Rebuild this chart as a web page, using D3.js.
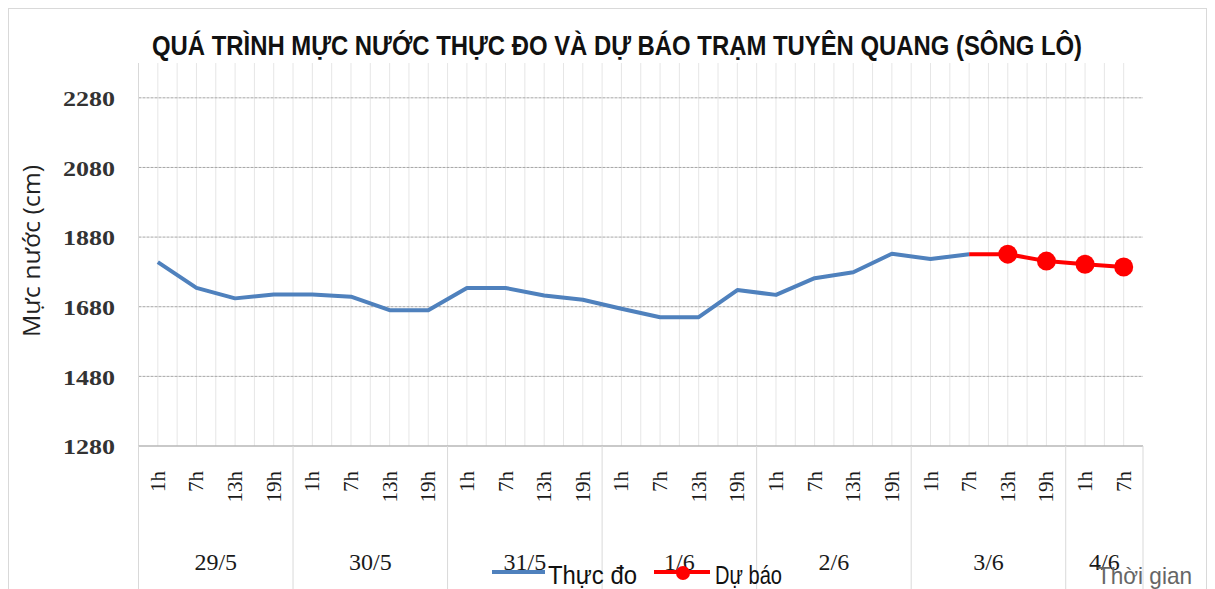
<!DOCTYPE html>
<html><head><meta charset="utf-8">
<script src="https://cdn.jsdelivr.net/npm/d3@7"></script>
<style>body{margin:0;background:#fff}svg{display:block}</style>
</head><body>
<svg id="c" width="1215" height="589"></svg>
<script>
const days = ["29/5","30/5","31/5","1/6","2/6","3/6","4/6"];
const hoursPerDay = [["1h","7h","13h","19h"],["1h","7h","13h","19h"],["1h","7h","13h","19h"],["1h","7h","13h","19h"],["1h","7h","13h","19h"],["1h","7h","13h","19h"],["1h","7h"]];
const observed = [1808,1734,1704,1715,1715,1709,1670,1670,1734,1734,1712,1700,1674,1650,1650,1728,1714,1762,1779,1832,1817,1831,null,null,null,null];
const forecast = [null,null,null,null,null,null,null,null,null,null,null,null,null,null,null,null,null,null,null,null,null,1831,1831,1811,1802,1794];
const forecastMarker = [false,false,false,false,false,false,false,false,false,false,false,false,false,false,false,false,false,false,false,false,false,false,true,true,true,true];
const yTicks = [1280,1480,1680,1880,2080,2280];
const title = "QUÁ TRÌNH MỰC NƯỚC THỰC ĐO VÀ DỰ BÁO TRẠM TUYÊN QUANG (SÔNG LÔ)";
const yTitle = "Mực nước (cm)";
const xTitle = "Thời gian";
const legendNames = ["Thực đo","Dự báo"];

const cats = [];
hoursPerDay.forEach((hs,di)=>hs.forEach(h=>cats.push({day:di,hour:h,key:di+"-"+h})));

const svg = d3.select("#c");
const L=138.5, R=1143, T=63, B=446;
const x = d3.scaleBand().domain(cats.map(c=>c.key)).range([L,R]).padding(0);
const y = d3.scaleLinear().domain([1280,2380]).range([B,T]);
const bw = x.bandwidth();
const cx = i => x(cats[i].key)+bw/2;

// outer border
svg.append("rect").attr("x",8.5).attr("y",8.5).attr("width",1198).attr("height",590).attr("fill","none").attr("stroke","#d9d9d9");

// vertical gridlines (half-category)
const g = svg.append("g");
for(let i=0;i<cats.length;i++){
  [x(cats[i].key), x(cats[i].key)+bw/2].forEach(xx=>{
    g.append("line").attr("x1",xx).attr("x2",xx).attr("y1",T).attr("y2",B).attr("stroke","#e6e6e6").attr("stroke-width",1);
  });
}
// horizontal gridlines
yTicks.forEach(v=>{
  g.append("line").attr("x1",L).attr("x2",R).attr("y1",y(v)).attr("y2",y(v)).attr("stroke","#a6a6a6").attr("stroke-width",1).attr("stroke-dasharray", v===1280?null:"3,1");
});
svg.append("line").attr("x1",L).attr("x2",L).attr("y1",T).attr("y2",B).attr("stroke","#d9d9d9");
svg.append("line").attr("x1",L).attr("x2",R).attr("y1",B).attr("y2",B).attr("stroke","#bfbfbf");

// y ticks
const yAxis = d3.axisLeft(y).tickValues(yTicks).tickSize(0).tickPadding(0).tickFormat(d3.format("d"));
const ya = svg.append("g").attr("transform",`translate(115,0)`).call(yAxis);
ya.select(".domain").remove();
ya.selectAll("text").attr("font-family","Liberation Serif, serif").attr("font-size",22).attr("font-weight","bold")
  .attr("fill","#333").attr("dy","0.35em").attr("textLength",52).attr("lengthAdjust","spacingAndGlyphs");

// category labels
cats.forEach((c,i)=>{
  svg.append("text").attr("transform",`translate(${cx(i)+7},471) rotate(-90)`).attr("text-anchor","end")
    .attr("font-family","Liberation Serif, serif").attr("font-size",21).attr("fill","#1a1a1a").text(c.hour);
});
// day groups
let start=0;
const bounds=[L];
hoursPerDay.forEach((hs,di)=>{
  const a=x(cats[start].key), b=x(cats[start+hs.length-1].key)+bw;
  bounds.push(b);
  svg.append("text").attr("x",(a+b)/2).attr("y",570).attr("text-anchor","middle")
    .attr("font-family","Liberation Serif, serif").attr("font-size",24).attr("fill","#1a1a1a").text(days[di]);
  start+=hs.length;
});
bounds.forEach(b=>svg.append("line").attr("x1",b).attr("x2",b).attr("y1",B).attr("y2",589).attr("stroke","#d9d9d9"));

// lines
const lineGen = d3.line().defined(d=>d.v!=null).x(d=>cx(d.i)).y(d=>y(d.v));
svg.append("path").datum(observed.map((v,i)=>({v,i}))).attr("d",lineGen).attr("fill","none").attr("stroke","#4f81bd").attr("stroke-width",4).attr("stroke-linejoin","round");
svg.append("path").datum(forecast.map((v,i)=>({v,i}))).attr("d",lineGen).attr("fill","none").attr("stroke","#ff0000").attr("stroke-width",4).attr("stroke-linejoin","round");
svg.selectAll("circle.f").data(forecast.map((v,i)=>({v,i})).filter(d=>d.v!=null && forecastMarker[d.i])).enter().append("circle")
  .attr("cx",d=>cx(d.i)).attr("cy",d=>y(d.v)).attr("r",9.5).attr("fill","#ff0000");

// title
svg.append("text").attr("x",617).attr("y",55).attr("text-anchor","middle").attr("font-family","Liberation Sans Narrow, Liberation Sans, sans-serif")
  .attr("font-weight","bold").attr("font-size",27).attr("fill","#111").attr("textLength",930).attr("lengthAdjust","spacingAndGlyphs").text(title);

// y title
svg.append("text").attr("transform","translate(40,251) rotate(-90)").attr("text-anchor","middle").attr("font-family","Open Sans, sans-serif")
  .attr("font-size",23).attr("fill","#222").attr("textLength",172).attr("lengthAdjust","spacingAndGlyphs").text(yTitle);

// legend
svg.append("line").attr("x1",492).attr("x2",545).attr("y1",572).attr("y2",572).attr("stroke","#4f81bd").attr("stroke-width",4);
svg.append("text").attr("x",548).attr("y",584).attr("font-family","Liberation Sans Narrow, sans-serif").attr("font-size",25).attr("fill","#111")
  .attr("textLength",89).attr("lengthAdjust","spacingAndGlyphs").text(legendNames[0]);
svg.append("line").attr("x1",654).attr("x2",710).attr("y1",572).attr("y2",572).attr("stroke","#ff0000").attr("stroke-width",4);
svg.append("circle").attr("cx",683).attr("cy",573).attr("r",7).attr("fill","#ff0000");
svg.append("text").attr("x",715).attr("y",584).attr("font-family","Liberation Sans Narrow, sans-serif").attr("font-size",25).attr("fill","#111")
  .attr("textLength",67).attr("lengthAdjust","spacingAndGlyphs").text(legendNames[1]);

// x title
svg.append("text").attr("x",1097).attr("y",584).attr("font-family","Liberation Sans Narrow, sans-serif").attr("font-size",24).attr("fill","#666")
  .attr("textLength",95).attr("lengthAdjust","spacingAndGlyphs").text(xTitle);
</script>
</body></html>
